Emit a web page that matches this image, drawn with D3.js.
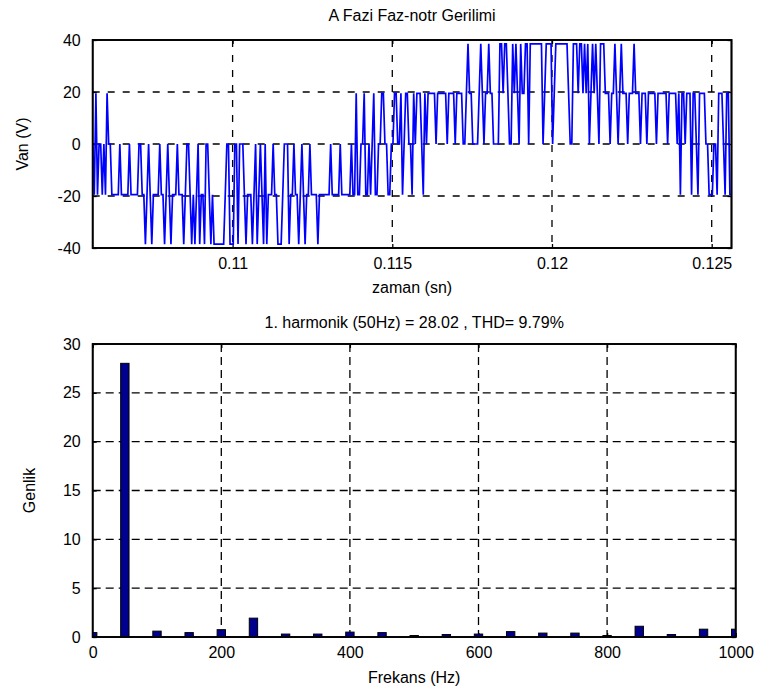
<!DOCTYPE html>
<html>
<head>
<meta charset="utf-8">
<script src="https://cdn.jsdelivr.net/npm/d3@7"></script>
<style>
  body { margin: 0; background: #fff; }
  svg { display: block; }
  text { font-family: "Liberation Sans", Arial, sans-serif; fill: #000; }
</style>
</head>
<body>
<svg id="chart" width="766" height="694"></svg>
<script>
// ---- Phase A line-to-neutral voltage, sampled every 50 us ----
const tStart = 0.10562;
const tStep = 0.00005;
const vanSamples = [
  0, -19.5, 19.5, -19.5, 0, 0, -19.5, 0, -19.5, 19.5,
  0, 0, -19.5, -19.5, -19.5, -19.5, -19.5, 0, -19.5, -19.5,
  -19.5, -19.5, -19.5, 0, -19.5, -19.5, -19.5, -19.5, -19.5, 0,
  0, -19.5, -19.5, -38.5, -19.5, 0, -19.5, -38.5, -19.5, -19.5,
  -19.5, -19.5, 0, -19.5, -19.5, -38.5, -19.5, 0, -19.5, -38.5,
  -19.5, -19.5, -19.5, 0, -19.5, -19.5, -19.5, -38.5, -19.5, 0,
  0, -19.5, -38.5, -19.5, -38.5, -19.5, 0, -38.5, -19.5, -19.5,
  -38.5, 0, 0, -19.5, -38.5, -19.5, -38.5, -38.5, -38.5, -38.5,
  -38.5, -38.5, -38.5, -19.5, 0, 0, -38.5, -38.5, -38.5, 0,
  0, -38.5, 0, 0, 0, -19.5, -38.5, -19.5, -19.5, -19.5,
  -38.5, -19.5, 0, -38.5, -19.5, 0, -19.5, -38.5, 0, -38.5,
  -19.5, -19.5, -19.5, 0, -19.5, -19.5, -38.5, -38.5, -38.5, -19.5,
  0, 0, 0, -38.5, -19.5, -19.5, 0, -19.5, -19.5, -38.5,
  -19.5, 0, -19.5, -38.5, -19.5, -19.5, 0, -19.5, -19.5, -19.5,
  -19.5, -38.5, -19.5, -19.5, -19.5, -19.5, -19.5, -19.5, -19.5, 0,
  -19.5, -19.5, -19.5, -19.5, -19.5, 0, -19.5, -19.5, -19.5, -19.5,
  -19.5, -19.5, 0, -19.5, -19.5, 19.5, -19.5, -19.5, 0, 0,
  19.5, -19.5, -19.5, 0, -19.5, 0, 19.5, -19.5, -19.5, 0,
  0, 19.5, 19.5, 0, 0, -19.5, -19.5, 0, 0, 19.5,
  19.5, 0, 0, 19.5, -19.5, 0, 19.5, 19.5, 0, 0,
  -19.5, 19.5, 0, 19.5, 19.5, 19.5, 0, -19.5, 19.5, 0,
  19.5, 19.5, 19.5, 19.5, 19.5, 0, 19.5, 19.5, 19.5, 19.5,
  19.5, 19.5, 0, 19.5, 19.5, 19.5, 19.5, 0, 19.5, 19.5,
  19.5, 19.5, 0, 0, 19.5, 38.5, 19.5, 19.5, 0, 0,
  0, 0, 19.5, 38.5, 19.5, 0, 19.5, 19.5, 38.5, 19.5,
  19.5, 0, 0, 0, 0, 38.5, 38.5, 19.5, 38.5, 38.5,
  19.5, 0, 0, 38.5, 19.5, 38.5, 19.5, 0, 38.5, 19.5,
  19.5, 38.5, 38.5, 0, 38.5, 38.5, 38.5, 38.5, 38.5, 38.5,
  38.5, 38.5, 0, 19.5, 38.5, 38.5, 38.5, 38.5, 0, 19.5,
  38.5, 38.5, 38.5, 38.5, 38.5, 38.5, 38.5, 38.5, 19.5, 0,
  0, 38.5, 38.5, 38.5, 19.5, 38.5, 38.5, 19.5, 38.5, 19.5,
  38.5, 0, 19.5, 38.5, 19.5, 38.5, 19.5, 0, 38.5, 38.5,
  38.5, 19.5, 19.5, 19.5, 0, 19.5, 19.5, 38.5, 19.5, 0,
  19.5, 38.5, 19.5, 19.5, 19.5, 0, 19.5, 19.5, 19.5, 38.5,
  19.5, 19.5, 19.5, 0, 19.5, 19.5, 19.5, 0, 19.5, 19.5,
  19.5, 19.5, 19.5, 0, 19.5, 19.5, 19.5, 19.5, 19.5, 19.5,
  0, 19.5, 19.5, 19.5, 19.5, 19.5, 0, 19.5, -19.5, 19.5,
  19.5, 0, 19.5, 19.5, 19.5, -19.5, 19.5, 19.5, 0, -19.5,
  19.5, 19.5, 19.5, 19.5, 0, 0, -19.5, -19.5, -19.5, 0,
  0, -19.5, 19.5, 19.5, 19.5, 0, -19.5, 19.5, 19.5, -19.5,
  -19.5
];
const timeTicks = [0.11, 0.115, 0.12, 0.125];
const voltTicks = [-40, -20, 0, 20, 40];

// ---- Harmonic spectrum ----
const harmonicFreqs = [0, 50, 100, 150, 200, 250, 300, 350, 400, 450, 500,
                       550, 600, 650, 700, 750, 800, 850, 900, 950, 1000];
const harmonicAmps  = [0.45, 28.02, 0.6, 0.45, 0.75, 1.93, 0.3, 0.3, 0.5, 0.45, 0.15,
                       0.25, 0.3, 0.55, 0.4, 0.4, 0.15, 1.1, 0.25, 0.8, 0.8];
const freqTicks = [0, 200, 400, 600, 800, 1000];
const ampTicks = [0, 5, 10, 15, 20, 25, 30];
const thdPercent = 9.79;

const svg = d3.select("#chart");
const FONT = 16;

const topBox = { left: 92.7, right: 731.5, top: 40, bottom: 248 };
const botBox = { left: 92.7, right: 735.7, top: 344, bottom: 637 };

function drawFrame(g, box, x, y, xTicks, yTicks, dash, xFmt, yFmt) {
  // dashed grid
  g.append("g").selectAll("line").data(xTicks.filter(d => x(d) > box.left + 1 && x(d) < box.right - 1))
    .join("line")
    .attr("x1", d => x(d)).attr("x2", d => x(d))
    .attr("y1", box.top).attr("y2", box.bottom)
    .attr("stroke", "#000").attr("stroke-width", 1.3).attr("stroke-dasharray", dash);
  g.append("g").selectAll("line").data(yTicks.filter(d => y(d) > box.top + 1 && y(d) < box.bottom - 1))
    .join("line")
    .attr("y1", d => y(d)).attr("y2", d => y(d))
    .attr("x1", box.left).attr("x2", box.right)
    .attr("stroke", "#000").attr("stroke-width", 1.3).attr("stroke-dasharray", dash);

  const axes = g.append("g").attr("class", "axes");
  const style = sel => {
    sel.select(".domain").remove();
    sel.selectAll(".tick line").attr("stroke", "#000").attr("stroke-width", 1.3);
    sel.selectAll(".tick text").attr("font-size", FONT).attr("font-family", "Liberation Sans, Arial, sans-serif").attr("fill", "#000");
  };
  axes.append("g").attr("transform", `translate(0,${box.bottom})`)
    .call(d3.axisBottom(x).tickValues(xTicks).tickSize(-4).tickPadding(10).tickFormat(xFmt)).call(style);
  axes.append("g").attr("transform", `translate(0,${box.top})`)
    .call(d3.axisTop(x).tickValues(xTicks).tickSize(-4).tickFormat("")).call(style);
  axes.append("g").attr("transform", `translate(${box.left},0)`)
    .call(d3.axisLeft(y).tickValues(yTicks).tickSize(-4).tickPadding(12).tickFormat(yFmt)).call(style);
  axes.append("g").attr("transform", `translate(${box.right},0)`)
    .call(d3.axisRight(y).tickValues(yTicks).tickSize(-4).tickFormat("")).call(style);
  axes.selectAll("text").attr("font-size", FONT);

  g.append("rect")
    .attr("x", box.left).attr("y", box.top)
    .attr("width", box.right - box.left).attr("height", box.bottom - box.top)
    .attr("fill", "none").attr("stroke", "#000").attr("stroke-width", 1.7);
}

// ================= Upper panel: time waveform =================
const gTop = svg.append("g");
const xTime = d3.scaleLinear()
  .domain([tStart, tStart + (vanSamples.length - 1) * tStep])
  .range([topBox.left, topBox.right]);
const yVolt = d3.scaleLinear().domain([-40, 40]).range([topBox.bottom, topBox.top]);

svg.append("defs").append("clipPath").attr("id", "clipTop")
  .append("rect").attr("x", topBox.left).attr("y", topBox.top)
  .attr("width", topBox.right - topBox.left).attr("height", topBox.bottom - topBox.top);

const lineGen = d3.line()
  .x((d, i) => xTime(tStart + i * tStep))
  .y(d => yVolt(d));

drawFrame(gTop, topBox, xTime, yVolt, timeTicks, voltTicks, "7,8", d => String(d), d => String(d));

gTop.append("path")
  .datum(vanSamples)
  .attr("clip-path", "url(#clipTop)")
  .attr("fill", "none")
  .attr("stroke", "#0000ff")
  .attr("stroke-width", 1.7)
  .attr("stroke-linejoin", "miter")
  .attr("d", lineGen);

// redraw frame border on top of the trace
gTop.append("rect")
  .attr("x", topBox.left).attr("y", topBox.top)
  .attr("width", topBox.right - topBox.left).attr("height", topBox.bottom - topBox.top)
  .attr("fill", "none").attr("stroke", "#000").attr("stroke-width", 1.7);

gTop.append("text")
  .attr("x", (topBox.left + topBox.right) / 2).attr("y", 21)
  .attr("text-anchor", "middle").attr("font-size", FONT)
  .text("A Fazi Faz-notr Gerilimi");
gTop.append("text")
  .attr("x", (topBox.left + topBox.right) / 2).attr("y", 293)
  .attr("text-anchor", "middle").attr("font-size", FONT)
  .text("zaman (sn)");
gTop.append("text")
  .attr("transform", `translate(28,${(topBox.top + topBox.bottom) / 2}) rotate(-90)`)
  .attr("text-anchor", "middle").attr("font-size", FONT)
  .text("Van (V)");

// ================= Lower panel: harmonic spectrum =================
const gBot = svg.append("g");
const xFreq = d3.scaleLinear().domain([0, 1000]).range([botBox.left, botBox.right]);
const yAmp = d3.scaleLinear().domain([0, 30]).range([botBox.bottom, botBox.top]);

svg.select("defs").append("clipPath").attr("id", "clipBot")
  .append("rect").attr("x", botBox.left).attr("y", botBox.top)
  .attr("width", botBox.right - botBox.left).attr("height", botBox.bottom - botBox.top);

drawFrame(gBot, botBox, xFreq, yAmp, freqTicks, ampTicks, "8,5", d => String(d), d => String(d));

const barWidthHz = 13;
gBot.append("g").attr("clip-path", "url(#clipBot)")
  .selectAll("rect").data(harmonicFreqs.map((f, i) => ({ f, a: harmonicAmps[i] })))
  .join("rect")
  .attr("x", d => xFreq(d.f - barWidthHz / 2))
  .attr("width", d => xFreq(d.f + barWidthHz / 2) - xFreq(d.f - barWidthHz / 2))
  .attr("y", d => yAmp(d.a))
  .attr("height", d => yAmp(0) - yAmp(d.a))
  .attr("fill", "#00008f")
  .attr("stroke", "#000")
  .attr("stroke-width", 1);

gBot.append("rect")
  .attr("x", botBox.left).attr("y", botBox.top)
  .attr("width", botBox.right - botBox.left).attr("height", botBox.bottom - botBox.top)
  .attr("fill", "none").attr("stroke", "#000").attr("stroke-width", 1.7);

const fundamental = harmonicAmps[harmonicFreqs.indexOf(50)];
gBot.append("text")
  .attr("x", (botBox.left + botBox.right) / 2).attr("y", 328)
  .attr("text-anchor", "middle").attr("font-size", FONT)
  .text(`1. harmonik (50Hz) = ${fundamental.toFixed(2)} , THD= ${thdPercent.toFixed(2)}%`);
gBot.append("text")
  .attr("x", (botBox.left + botBox.right) / 2).attr("y", 683)
  .attr("text-anchor", "middle").attr("font-size", FONT)
  .text("Frekans (Hz)");
gBot.append("text")
  .attr("transform", `translate(35,${(botBox.top + botBox.bottom) / 2}) rotate(-90)`)
  .attr("text-anchor", "middle").attr("font-size", FONT)
  .text("Genlik");
</script>
</body>
</html>
